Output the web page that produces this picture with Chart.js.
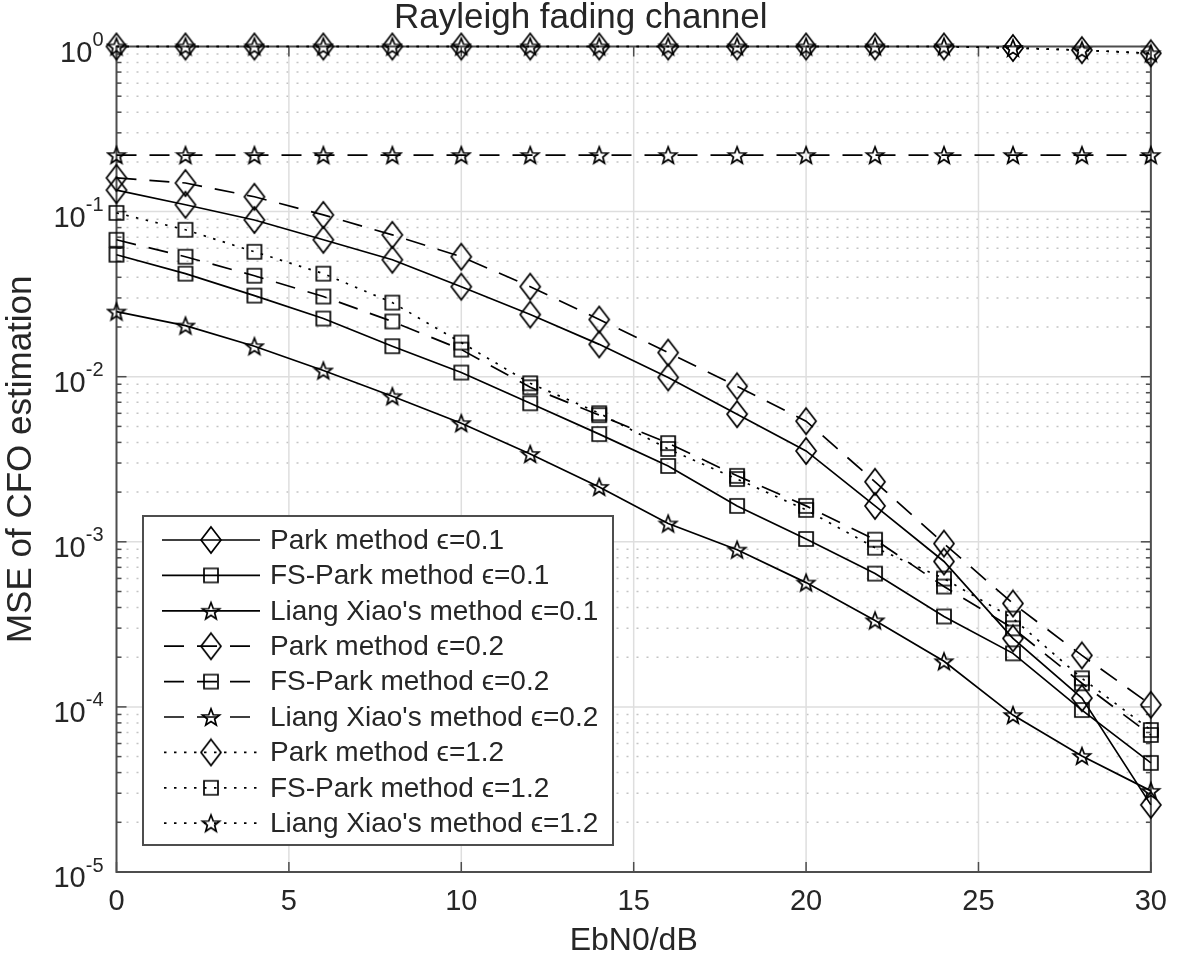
<!DOCTYPE html>
<html>
<head>
<meta charset="utf-8">
<script src="https://cdn.jsdelivr.net/npm/chart.js@4.4.1/dist/chart.umd.min.js"></script>
<style>
  html, body { margin: 0; padding: 0; background: #fff; }
  canvas { display: block; }
</style>
</head>
<body>
<canvas id="cfoChart" width="1180" height="963"></canvas>
<script>
// EbN0 in dB
const ebn0 = [0, 2, 4, 6, 8, 10, 12, 14, 16, 18, 20, 22, 24, 26, 28, 30];

// MSE values
const parkE01 = [0.135, 0.110, 0.089, 0.0675, 0.0511, 0.0351, 0.0238, 0.0157, 0.0099, 0.00593, 0.00355, 0.00165, 0.00076, 0.00026, 0.000113, 0.0000255];
const fsParkE01 = [0.0548, 0.0421, 0.0310, 0.0225, 0.0153, 0.0106, 0.0069, 0.00449, 0.00288, 0.00165, 0.00104, 0.000642, 0.000353, 0.000211, 0.0000957, 0.0000458];
const liangE01 = [0.0248, 0.0204, 0.0153, 0.0109, 0.00762, 0.00523, 0.0034, 0.00215, 0.00129, 0.000896, 0.000566, 0.000334, 0.000189, 0.0000892, 0.0000505, 0.000031];
const parkE02 = [0.160, 0.149, 0.123, 0.0955, 0.0723, 0.0533, 0.0351, 0.0222, 0.0140, 0.00875, 0.00538, 0.00231, 0.000975, 0.000423, 0.000205, 0.000103];
const fsParkE02 = [0.0675, 0.0533, 0.0409, 0.0306, 0.0216, 0.0146, 0.00863, 0.00585, 0.00396, 0.00251, 0.00165, 0.00103, 0.000536, 0.000299, 0.000139, 0.0000676];
const liangE02 = [0.22, 0.22, 0.22, 0.22, 0.22, 0.22, 0.22, 0.22, 0.22, 0.22, 0.22, 0.22, 0.22, 0.22, 0.22, 0.22];
const parkE12 = [1, 1, 1, 1, 1, 1, 1, 1, 1, 1, 1, 1, 1, 0.98, 0.95, 0.91];
const fsParkE12 = [0.0982, 0.0776, 0.0571, 0.0421, 0.0281, 0.0161, 0.00912, 0.00601, 0.00365, 0.0024, 0.00156, 0.000921, 0.000599, 0.000343, 0.000149, 0.0000724];
const liangE12 = [1, 1, 1, 1, 1, 1, 1, 1, 1, 1, 1, 1, 1, 0.98, 0.95, 0.91];

const seriesLabels = [
  "Park method ϵ=0.1", "FS-Park method ϵ=0.1", "Liang Xiao's method ϵ=0.1",
  "Park method ϵ=0.2", "FS-Park method ϵ=0.2", "Liang Xiao's method ϵ=0.2",
  "Park method ϵ=1.2", "FS-Park method ϵ=1.2", "Liang Xiao's method ϵ=1.2"
];

const yTickValues = [1, 0.1, 0.01, 0.001, 0.0001, 0.00001];
const yTickExponents = ['0', '-1', '-2', '-3', '-4', '-5'];

const FONT = "'Liberation Sans', Arial, Helvetica, sans-serif";
const TEXT = '#262626';
const AXIS = '#4d4d4d';

// unfilled MATLAB-like markers
function makeMarker(kind) {
  const c = document.createElement('canvas');
  const ctx = c.getContext('2d');
  if (kind === 'diamond') {
    c.width = 24; c.height = 30;
    ctx.beginPath();
    ctx.moveTo(12, 2); ctx.lineTo(22, 15); ctx.lineTo(12, 28); ctx.lineTo(2, 15);
    ctx.closePath();
  } else if (kind === 'square') {
    c.width = 18; c.height = 18;
    ctx.beginPath();
    ctx.rect(2, 2, 14, 14);
  } else {
    c.width = 22; c.height = 22;
    ctx.beginPath();
    for (let i = 0; i < 10; i++) {
      const r = i % 2 === 0 ? 9 : 3.8;
      const ang = -Math.PI / 2 + i * Math.PI / 5;
      const px = 11 + r * Math.cos(ang), py = 11.8 + r * Math.sin(ang);
      if (i === 0) ctx.moveTo(px, py); else ctx.lineTo(px, py);
    }
    ctx.closePath();
  }
  ctx.strokeStyle = '#000';
  ctx.lineWidth = 1.7;
  ctx.stroke();
  return c;
}

const diamond = makeMarker('diamond');
const square = makeMarker('square');
const star = makeMarker('star');

const SOLID = [];
const DASHED = [20, 13];
const DOTTED = [2.5, 7.5];

function series(label, values, marker, dash) {
  return {
    label: label,
    data: ebn0.map((x, i) => ({x: x, y: values[i]})),
    borderColor: '#000',
    borderWidth: 1.7,
    borderDash: dash,
    pointStyle: marker,
    pointRadius: 8,
    tension: 0,
    fill: false,
    clip: false
  };
}

const datasets = [
  series(seriesLabels[0], parkE01, diamond, SOLID),
  series(seriesLabels[1], fsParkE01, square, SOLID),
  series(seriesLabels[2], liangE01, star, SOLID),
  series(seriesLabels[3], parkE02, diamond, DASHED),
  series(seriesLabels[4], fsParkE02, square, DASHED),
  series(seriesLabels[5], liangE02, star, DASHED),
  series(seriesLabels[6], parkE12, diamond, DOTTED),
  series(seriesLabels[7], fsParkE12, square, DOTTED),
  series(seriesLabels[8], liangE12, star, DOTTED)
];

function hline(ctx, x1, x2, y) { ctx.beginPath(); ctx.moveTo(x1, y); ctx.lineTo(x2, y); ctx.stroke(); }
function vline(ctx, x, y1, y2) { ctx.beginPath(); ctx.moveTo(x, y1); ctx.lineTo(x, y2); ctx.stroke(); }

// grid, box, inward ticks and y labels like a MATLAB axes
const matlabAxes = {
  id: 'matlabAxes',
  beforeDatasetsDraw(chart) {
    const {ctx, chartArea: a} = chart;
    const xs = chart.scales.x, ys = chart.scales.y;
    ctx.save();
    // minor y grid (dotted)
    ctx.strokeStyle = '#c4c4c4';
    ctx.lineWidth = 1.5;
    ctx.setLineDash([2, 8]);
    for (let e = -5; e < 0; e++) {
      for (let k = 2; k <= 9; k++) {
        const py = ys.getPixelForValue(k * Math.pow(10, e));
        hline(ctx, a.left, a.right, py);
      }
    }
    // major grid
    ctx.setLineDash([]);
    ctx.strokeStyle = '#dedede';
    ctx.lineWidth = 1.5;
    yTickValues.slice(1, -1).forEach(v => hline(ctx, a.left, a.right, ys.getPixelForValue(v)));
    xs.ticks.slice(1, -1).forEach(t => vline(ctx, xs.getPixelForValue(t.value), a.top, a.bottom));

    // box
    ctx.strokeStyle = AXIS;
    ctx.lineWidth = 2;
    ctx.strokeRect(a.left, a.top, a.right - a.left, a.bottom - a.top);

    // inward ticks
    ctx.lineWidth = 1.5;
    xs.ticks.forEach(t => {
      const px = xs.getPixelForValue(t.value);
      vline(ctx, px, a.bottom, a.bottom - 10);
      vline(ctx, px, a.top, a.top + 10);
    });
    for (let e = -5; e <= 0; e++) {
      for (let k = 1; k <= 9; k++) {
        if (e === 0 && k > 1) break;
        const py = ys.getPixelForValue(k * Math.pow(10, e));
        const len = k === 1 ? 10 : 5;
        hline(ctx, a.left, a.left + len, py);
        hline(ctx, a.right - len, a.right, py);
      }
    }

    // y tick labels 10^n
    ctx.fillStyle = TEXT;
    ctx.textBaseline = 'middle';
    yTickValues.forEach((v, i) => {
      const py = ys.getPixelForValue(v);
      const right = a.left - 13;
      ctx.font = '20px ' + FONT;
      ctx.textAlign = 'right';
      const supW = ctx.measureText(yTickExponents[i]).width;
      ctx.fillText(yTickExponents[i], right, py - 6);
      ctx.font = '29px ' + FONT;
      ctx.fillText('10', right - supW, py + 7);
    });
    ctx.restore();
  },
  afterDatasetsDraw(chart) {
    const {ctx} = chart;
    const box = {left: 143, top: 516, right: 613, bottom: 845};
    ctx.save();
    ctx.fillStyle = '#fff';
    ctx.fillRect(box.left, box.top, box.right - box.left, box.bottom - box.top);
    ctx.strokeStyle = AXIS;
    ctx.lineWidth = 2;
    ctx.strokeRect(box.left, box.top, box.right - box.left, box.bottom - box.top);
    chart.data.datasets.forEach((ds, i) => {
      const cy = 540 + i * 35.4;
      ctx.strokeStyle = '#000';
      ctx.lineWidth = ds.borderWidth;
      ctx.setLineDash(ds.borderDash);
      ctx.lineDashOffset = ds.borderDash.length ? -2 : 0;
      hline(ctx, 162, 260, cy);
      ctx.setLineDash([]);
      const m = ds.pointStyle;
      ctx.drawImage(m, 211 - m.width / 2, cy - m.height / 2);
      ctx.fillStyle = TEXT;
      ctx.font = '28px ' + FONT;
      ctx.textAlign = 'left';
      ctx.textBaseline = 'middle';
      ctx.fillText(ds.label, 270, cy + 1);
    });
    ctx.restore();
  }
};

new Chart(document.getElementById('cfoChart').getContext('2d'), {
  type: 'line',
  data: {datasets: datasets},
  options: {
    responsive: false,
    animation: false,
    devicePixelRatio: 1,
    layout: {padding: {left: 0, right: 18.5, top: 0, bottom: 0}},
    plugins: {
      legend: {display: false},
      tooltip: {enabled: false},
      title: {
        display: true,
        text: 'Rayleigh fading channel',
        color: TEXT,
        font: {family: FONT, size: 35, weight: 'normal', lineHeight: 1.0},
        padding: {top: 1, bottom: 10.5}
      }
    },
    scales: {
      x: {
        type: 'linear',
        min: 0,
        max: 30,
        grid: {display: false, drawTicks: false},
        border: {display: false},
        ticks: {stepSize: 5, color: TEXT, padding: 13, font: {family: FONT, size: 29}},
        title: {display: true, text: 'EbN0/dB', color: TEXT, font: {family: FONT, size: 32}, padding: {top: 0, bottom: 3}},
        afterFit(scale) { scale.height = 91; }
      },
      y: {
        type: 'logarithmic',
        min: 0.00001,
        max: 1,
        grid: {display: false, drawTicks: false},
        border: {display: false},
        ticks: {display: false},
        title: {display: true, text: 'MSE of CFO estimation', color: TEXT, font: {family: FONT, size: 35}, padding: {top: 0, bottom: 0}},
        afterFit(scale) { scale.width = 116.5; }
      }
    }
  },
  plugins: [matlabAxes]
});
</script>
</body>
</html>
